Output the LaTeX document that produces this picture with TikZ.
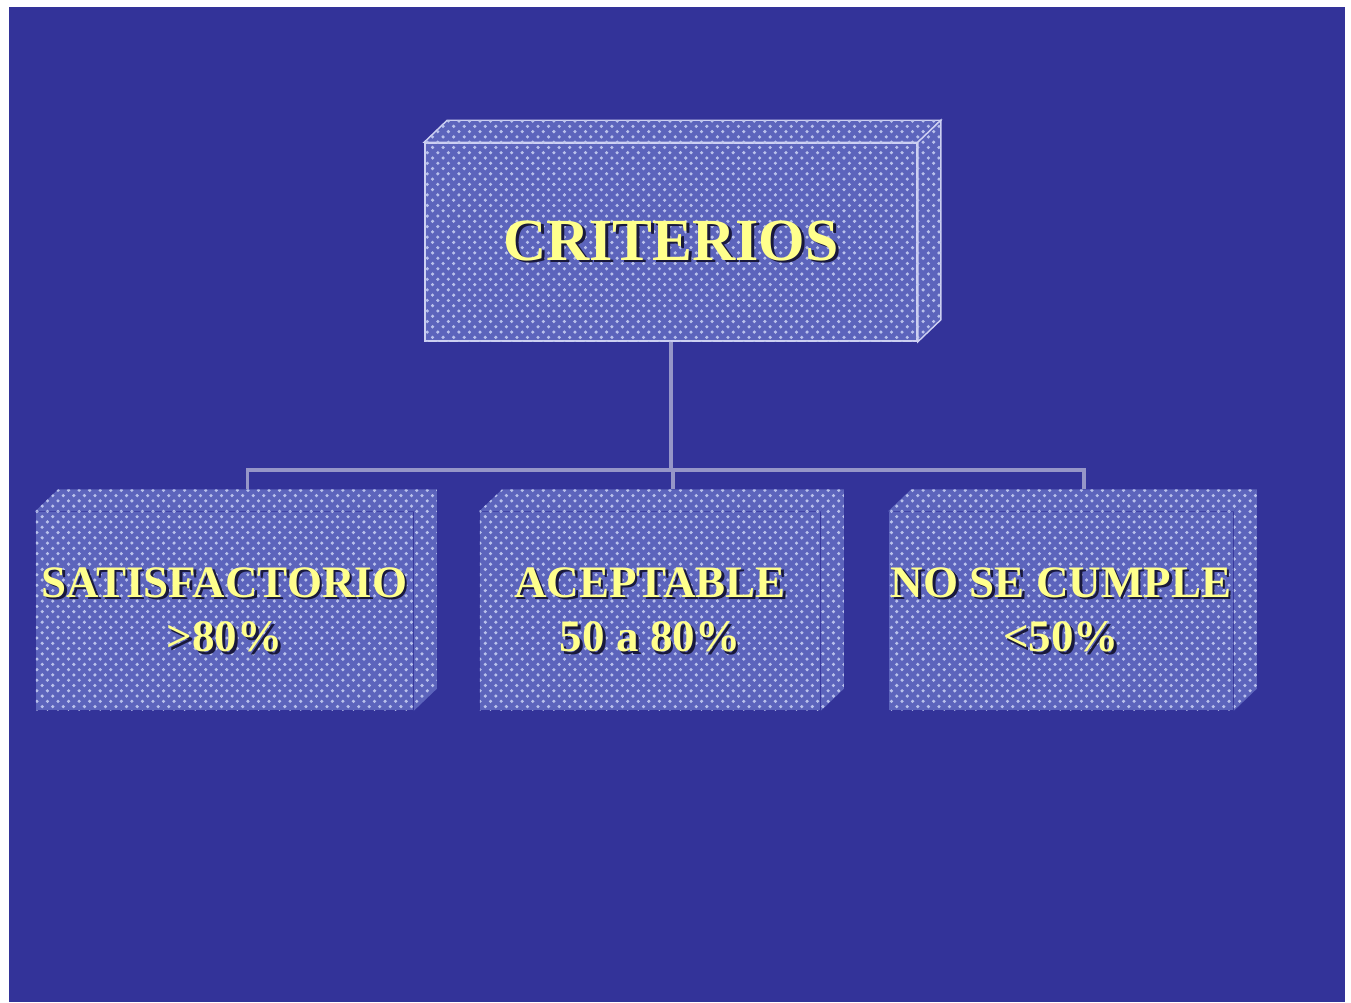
\documentclass[tikz,border=0pt]{standalone}
\usepackage{fontspec}
\setmainfont{Liberation Serif}
\usepackage{tikz}
\usepackage{xcolor}
\definecolor{tback}{RGB}{51,51,153}
\definecolor{tbox}{RGB}{92,100,188}
\definecolor{tdots}{RGB}{186,194,236}
\definecolor{tline}{RGB}{205,208,242}
\definecolor{tconn}{RGB}{150,150,200}
\definecolor{tyellow}{RGB}{255,255,140}
\definecolor{tshadow}{RGB}{25,25,60}
\usetikzlibrary{patterns}

\newcommand{\embo}[1]{\makebox[0pt][l]{\hspace{0.8pt}\raisebox{-0.8pt}{\color{tshadow}#1}}#1}

\begin{document}
\begin{tikzpicture}[x=0.01cm,y=-0.01cm]
\tikzstyle{boxFront} = [
  shape=rectangle,
  inner sep=0pt,
  minimum height=1.98cm,
  fill = tbox,
  postaction = {pattern=crosshatch dots, pattern color=tdots},
  text = tyellow,
  align = center
]
\tikzstyle{boxSmall} = [
  font = \bfseries\fontsize{12.8}{15.4}\selectfont
]
\tikzstyle{boxSide} = [
  fill = tbox,
  postaction = {pattern=crosshatch dots, pattern color=tdots},
  line width = 0.4pt
]
\tikzstyle{tedge} = [
  draw = tconn,
  line width = 0.9pt
]

\useasboundingbox (0,0) rectangle (1351,1002);
\fill[white] (0,0) rectangle (1351,1002);
\fill[tback] (9,7) rectangle (1345,1002);

\node[boxFront, minimum width=4.92cm, draw=tline, line width=0.4pt,
  font=\bfseries\fontsize{17}{20}\selectfont] (crit) at (671,242) {\embo{CRITERIOS}};
\node[boxFront, boxSmall, minimum width=3.77cm] (sat) at (224.5,611) {\embo{SATISFACTORIO}\\\embo{>80\%}};
\node[boxFront, boxSmall, minimum width=3.40cm] (acep) at (650,611) {\embo{ACEPTABLE}\\\embo{50 a 80\%}};
\node[boxFront, boxSmall, minimum width=3.44cm] (nosc) at (1061,611) {\embo{NO SE CUMPLE}\\\embo{<50\%}};

\foreach \n/\c in {crit/tline, sat/none, acep/none, nosc/none} {
  \draw[boxSide, draw=\c] (\n.north west) -- ([shift={(23,-22)}]\n.north west)
    -- ([shift={(23,-22)}]\n.north east) -- (\n.north east) -- cycle;
  \draw[boxSide, draw=\c] (\n.north east) -- ([shift={(23,-22)}]\n.north east)
    -- ([shift={(23,-22)}]\n.south east) -- (\n.south east) -- cycle;
}

\foreach \n in {sat,acep,nosc}
  \coordinate (\n top) at ([shift={(23,-22)}]\n.north);
\coordinate (bus) at (671,470);

\draw[tedge] (crit.south) -- (bus);
\foreach \n in {sat,acep,nosc}
  \draw[tedge] (bus) -| (\n top);

\end{tikzpicture}
\end{document}
